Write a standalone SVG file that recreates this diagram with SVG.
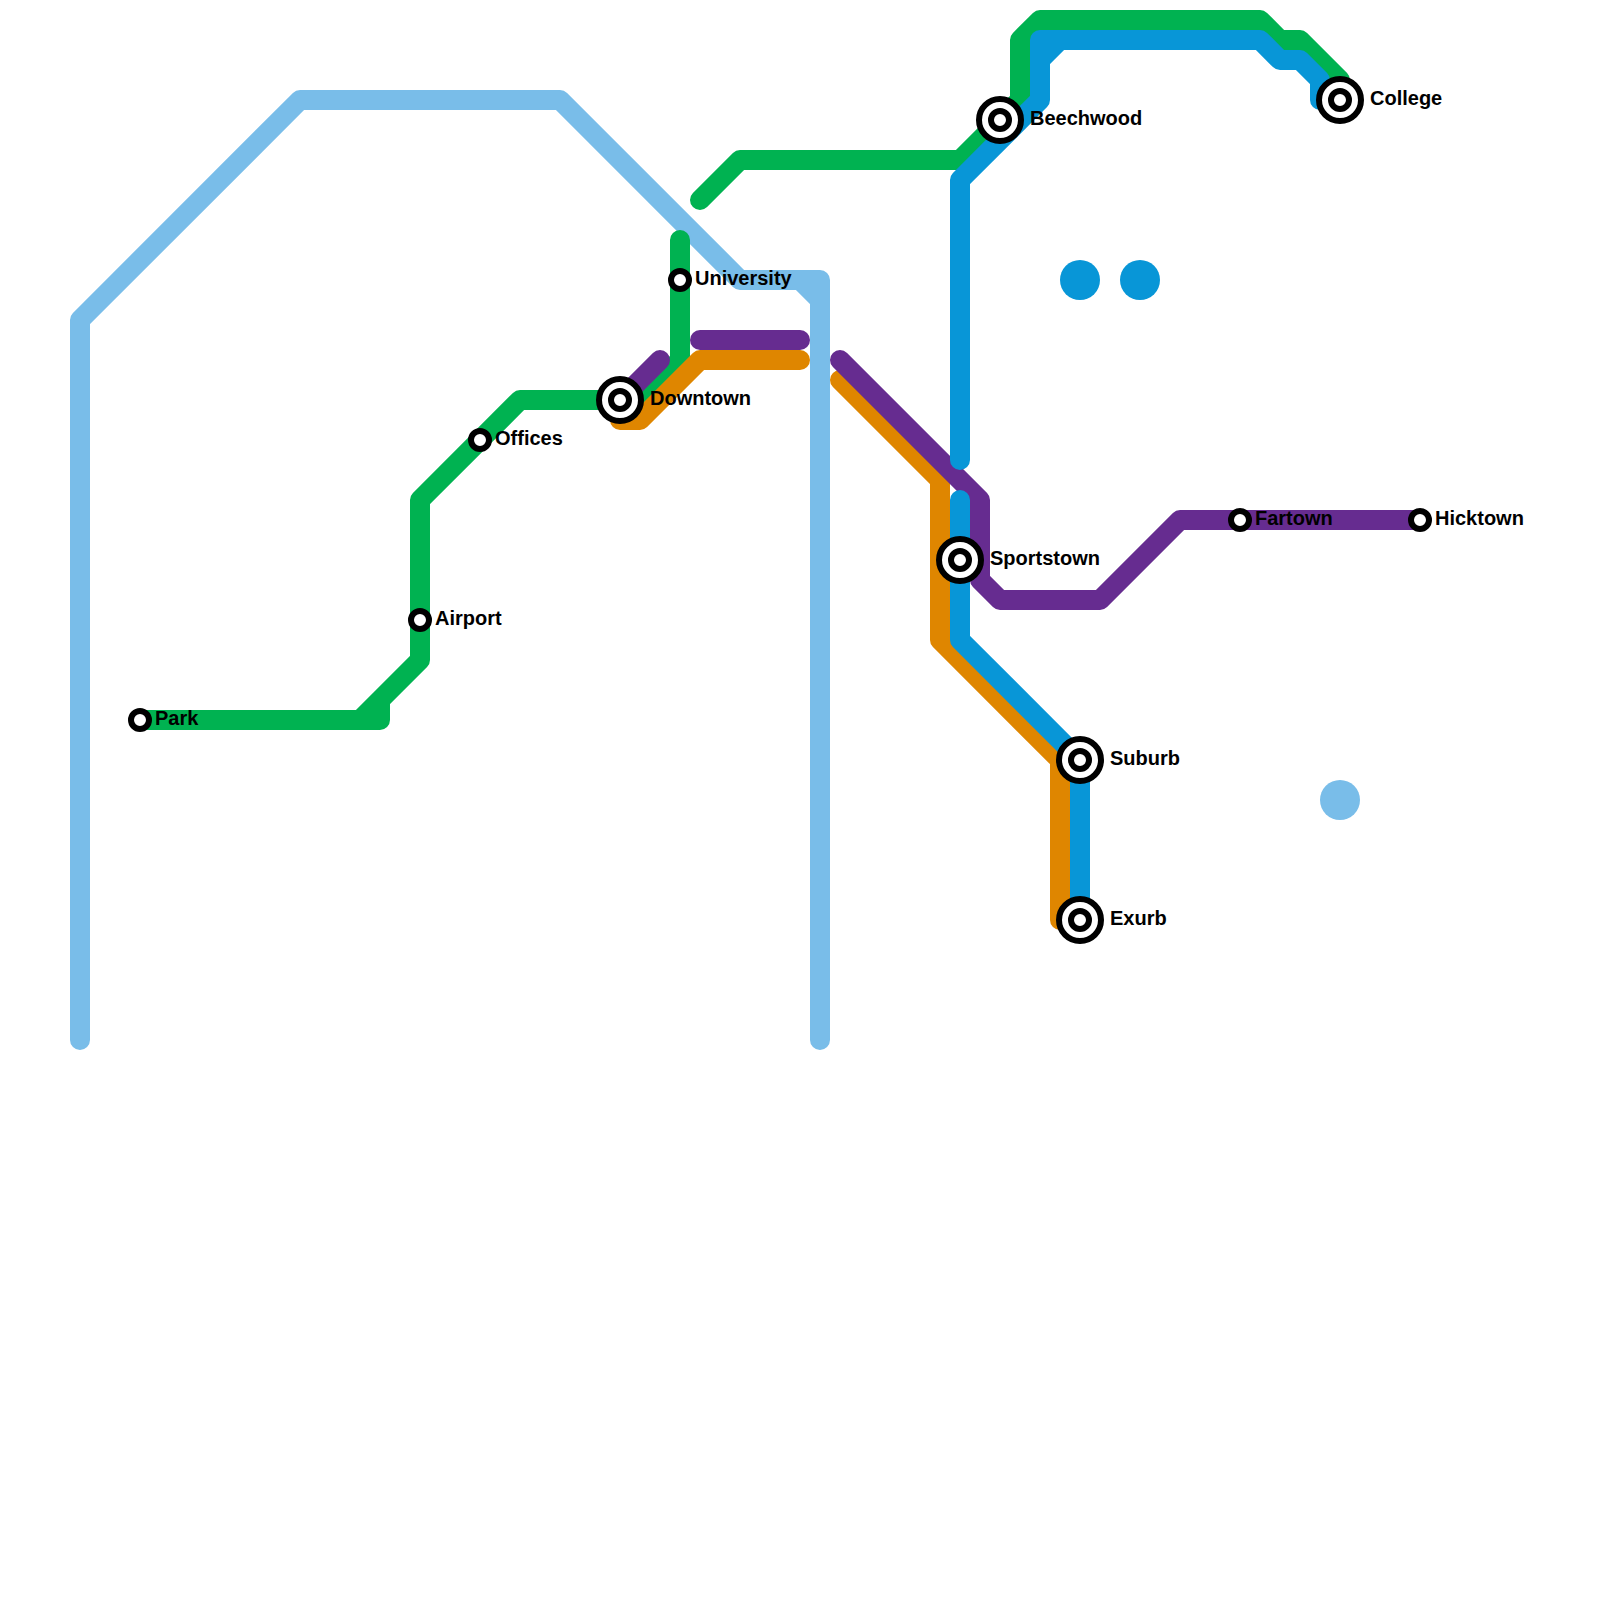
<svg xmlns="http://www.w3.org/2000/svg" width="1600" height="1600" viewBox="0 0 1600 1600">
<style>
.l{fill:none;stroke-width:20;stroke-linecap:round;stroke-linejoin:round}
.lb{stroke:#79bde9}.g{stroke:#00b251}.o{stroke:#df8600}.p{stroke:#662c90}.b{stroke:#0896d7}
.s{fill:#fff;stroke:#000;stroke-width:6}
.t{font-family:"Liberation Sans",Arial,sans-serif;font-size:20px;font-weight:700;fill:#000}
</style>
<defs>
<g id="small"><circle r="9" class="s"/></g>
<g id="large"><circle r="21" class="s"/><circle r="9" class="s"/></g>
</defs>
<g id="connectors">
<path class="l lb" d="M80 1040V320L300 100H560L740 280H820V1040M800 280L820 300"/>
<path class="l g" d="M140 720H380V700M360 720L420 660V500L520 400H640L680 360V240"/>
<path class="l g" d="M700 200L740 160H960L1020 100V40L1040 20H1260L1280 40H1300L1340 80"/>
<path class="l o" d="M620 420H640L700 360H800"/>
<path class="l o" d="M840 380L940 480V640L1060 760V920H1080"/>
<path class="l p" d="M620 400L660 360"/>
<path class="l p" d="M700 340H800"/>
<path class="l p" d="M840 360L980 500V580L1000 600H1100L1180 520H1420"/>
<path class="l b" d="M960 460V180L1040 100V40H1260L1280 60H1300L1320 80V100H1340M1040 60L1060 40"/>
<path class="l b" d="M960 500V640L1080 760V920"/>
<circle cx="1080" cy="280" r="20" fill="#0896d7"/>
<circle cx="1140" cy="280" r="20" fill="#0896d7"/>
<circle cx="1340" cy="800" r="20" fill="#79bde9"/>
</g>
<g id="park"><use href="#small" x="140" y="720"/><text class="t" x="155" y="725">Park</text></g>
<g id="airport"><use href="#small" x="420" y="620"/><text class="t" x="435" y="625">Airport</text></g>
<g id="offices"><use href="#small" x="480" y="440"/><text class="t" x="495" y="445">Offices</text></g>
<g id="downtown"><use href="#large" x="620" y="400"/><text class="t" x="650" y="405">Downtown</text></g>
<g id="university"><use href="#small" x="680" y="280"/><text class="t" x="695" y="285">University</text></g>
<g id="beechwood"><use href="#large" x="1000" y="120"/><text class="t" x="1030" y="125">Beechwood</text></g>
<g id="college"><use href="#large" x="1340" y="100"/><text class="t" x="1370" y="105">College</text></g>
<g id="sportstown"><use href="#large" x="960" y="560"/><text class="t" x="990" y="565">Sportstown</text></g>
<g id="suburb"><use href="#large" x="1080" y="760"/><text class="t" x="1110" y="765">Suburb</text></g>
<g id="exurb"><use href="#large" x="1080" y="920"/><text class="t" x="1110" y="925">Exurb</text></g>
<g id="fartown"><use href="#small" x="1240" y="520"/><text class="t" x="1255" y="525">Fartown</text></g>
<g id="hicktown"><use href="#small" x="1420" y="520"/><text class="t" x="1435" y="525">Hicktown</text></g>
</svg>
